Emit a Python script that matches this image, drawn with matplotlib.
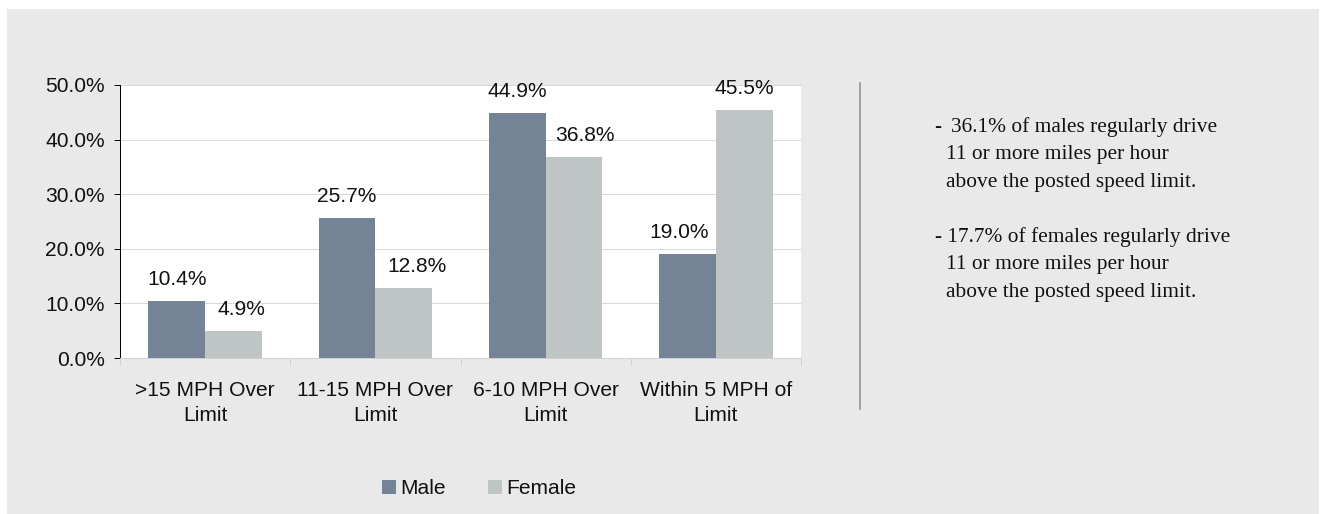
import matplotlib
matplotlib.use("Agg")
import matplotlib.pyplot as plt
from matplotlib.patches import Rectangle, Patch
from matplotlib.lines import Line2D
import numpy as np

# ---- data ----
categories = [">15 MPH Over\nLimit", "11-15 MPH Over\nLimit", "6-10 MPH Over\nLimit", "Within 5 MPH of\nLimit"]
male = [10.4, 25.7, 44.9, 19.0]
female = [4.9, 12.8, 36.8, 45.5]
series_names = ["Male", "Female"]
y_ticks = [0, 10, 20, 30, 40, 50]
notes = [
    ["36.1% of males regularly drive", "11 or more miles per hour", "above the posted speed limit."],
    ["- 17.7% of females regularly drive", "11 or more miles per hour", "above the posted speed limit."],
]

# ---- style ----
W, H = 1322, 514
DPI = 100
PX = 72.0 / DPI
MALE_C = "#748395"
FEMALE_C = "#bfc4c5"
BG = "#e9e9e9"
GRID = "#d9d9d9"
FS = 15.1
FS_SERIF = 15.4
SANS = "Liberation Sans"
SERIF = "Liberation Serif"
TXT = "#111111"

plt.rcParams["font.family"] = [SANS, "DejaVu Sans"]

fig = plt.figure(figsize=(W / DPI, H / DPI), dpi=DPI, facecolor="white")

# grey panel
fig.patches.append(Rectangle((7 / W, 0), (1319 - 7) / W, (H - 9) / H,
                             transform=fig.transFigure, facecolor=BG,
                             edgecolor="none", zorder=-10))

ax = fig.add_axes([120 / W, 1 - 358 / H, (801 - 120) / W, (358 - 85) / H])
ax.set_facecolor("white")

x = np.arange(len(categories))
bw = 0.333
ax.bar(x - bw / 2, male, bw, color=MALE_C, zorder=3)
ax.bar(x + bw / 2, female, bw, color=FEMALE_C, zorder=3)

ax.set_xlim(-0.5, len(categories) - 0.5)
ax.set_ylim(0, 50)
ax.set_yticks(y_ticks)
ax.set_yticklabels([f"{v:.1f}%" for v in y_ticks], fontsize=FS, color=TXT)
ax.set_xticks(x)
ax.set_xticklabels(categories, fontsize=FS, color=TXT, linespacing=1.4)
ax.set_xticks(np.arange(-0.5, len(categories)), minor=True)

ax.tick_params(axis="y", direction="out", length=6 * PX, width=1 * PX,
               color="black", pad=9 * PX)
ax.tick_params(axis="x", which="major", length=0, pad=23 * PX)
ax.tick_params(axis="x", which="minor", length=6.7 * PX, width=1 * PX,
               color="#d0d0d0")

for s in ["top", "right"]:
    ax.spines[s].set_visible(False)
ax.spines["left"].set_color("black")
ax.spines["left"].set_linewidth(1 * PX)
ax.spines["bottom"].set_color("#d0d0d0")
ax.spines["bottom"].set_linewidth(1 * PX)

ax.yaxis.grid(True, color=GRID, linewidth=1 * PX)
ax.set_axisbelow(True)
ax.yaxis.get_gridlines()[-1].set_clip_on(False)

# data labels (small horizontal nudges mimic the reference's overlap avoidance)
male_nudge_px = [0, 0, 0, -8]
female_nudge_px = [8, 13, 11, 0]
lab_off_px = 21.5
for i in range(len(categories)):
    ax.annotate(f"{male[i]:.1f}%", (x[i] - bw / 2, male[i]),
                xytext=(male_nudge_px[i] * PX, lab_off_px * PX),
                textcoords="offset points", ha="center", va="center",
                fontsize=FS, color=TXT)
    ax.annotate(f"{female[i]:.1f}%", (x[i] + bw / 2, female[i]),
                xytext=(female_nudge_px[i] * PX, lab_off_px * PX),
                textcoords="offset points", ha="center", va="center",
                fontsize=FS, color=TXT)

# legend
handles = [Patch(facecolor=MALE_C, edgecolor="none"),
           Patch(facecolor=FEMALE_C, edgecolor="none")]
fig.legend(handles, series_names, loc="center",
           bbox_to_anchor=(479 / W, 1 - 489 / H), ncol=2, frameon=False,
           handlelength=0.67, handleheight=0.67, handletextpad=0.2,
           columnspacing=2.0, prop={"family": SANS, "size": FS},
           labelcolor=TXT, borderpad=0)

# separator line
fig.add_artist(Line2D([859.5 / W, 859.5 / W], [1 - 83 / H, 1 - 409 / H],
                      transform=fig.transFigure, color="#8a8a8a",
                      linewidth=1.5 * PX))

# notes text
baselines = [[131.7, 159.4, 187.1], [241.7, 269.3, 296.7]]
xs = [[951, 946, 946], [935, 946, 946]]
fig.text(934 / W, 1 - 131.7 / H, "-", fontsize=FS, family=SANS,
         va="baseline", ha="left", color=TXT, fontweight="bold")
for p, para in enumerate(notes):
    for j, line in enumerate(para):
        fig.text(xs[p][j] / W, 1 - baselines[p][j] / H, line, fontsize=FS_SERIF,
                 family=SERIF, va="baseline", ha="left", color=TXT)

fig.savefig("out.png", dpi=DPI, facecolor=fig.get_facecolor())
